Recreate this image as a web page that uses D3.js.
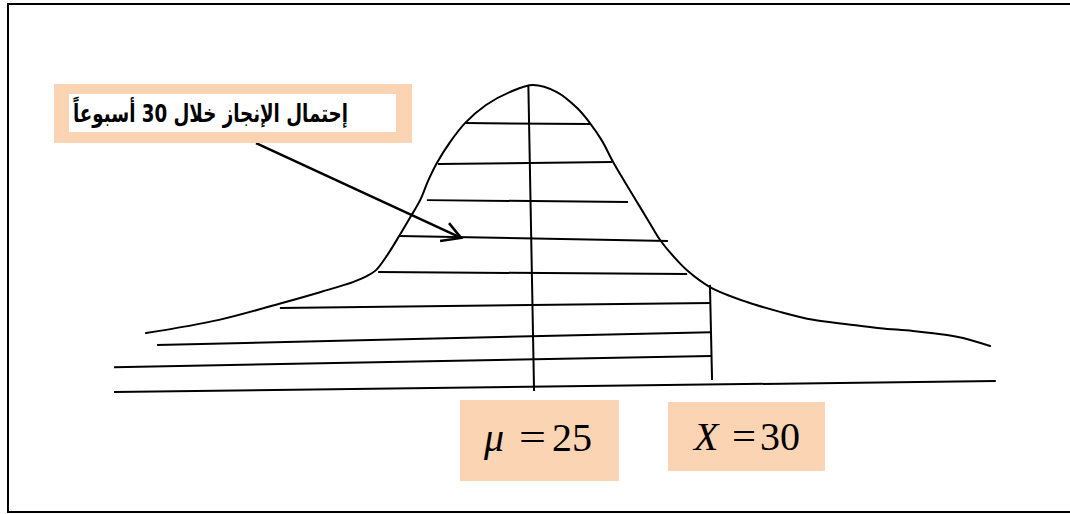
<!DOCTYPE html>
<html>
<head>
<meta charset="utf-8">
<script src="https://cdn.jsdelivr.net/npm/d3@7"></script>
<style>
  html, body { margin: 0; padding: 0; background: #fff; }
  svg { display: block; }
  .math { font-family: "Liberation Serif", "DejaVu Serif", serif; }
  .label { font-family: "DejaVu Sans", sans-serif; font-weight: bold; }
</style>
</head>
<body>
<svg id="chart" width="1070" height="514"></svg>
<script>
// curve of the sketch (x in weeks, y as % of peak height)
const curveX = [14.13, 16.18, 17.95, 19.04, 19.94, 20.34, 20.59, 20.93, 21.24, 21.54, 21.83, 22.05, 22.30, 22.67, 23.09, 23.68, 24.35, 25.00,
  25.67, 26.24, 26.60, 26.94, 27.25, 27.58, 27.92, 28.26, 28.57, 28.96, 29.35, 29.97, 31.01, 31.94, 32.87, 33.82, 34.75, 35.67, 36.63, 37.08, 37.84];
const curveY = [19.2, 23.5, 29.0, 32.6, 35.8, 37.8, 39.7, 45.0, 50.8, 56.7, 62.5, 68.7, 74.6, 81.4, 87.6, 93.5, 97.7, 100,
  97.7, 92.5, 87.6, 81.8, 74.9, 68.4, 61.9, 55.4, 49.5, 44.0, 39.4, 34.2, 29.3, 26.1, 23.5, 22.1, 20.8, 19.9, 18.6, 17.6, 15.0];

// hatch lines of the shaded area, last one is the base line
const hatchX1 = [23.09, 22.33, 22.02, 21.24, 20.65, 17.89, 14.44, 13.23, 13.23];
const hatchY1 = [87.6, 74.3, 62.5, 50.8, 39.1, 27.4, 15.3, 8.1, 0];
const hatchX2 = [26.60, 27.22, 27.67, 28.79, 29.33, 30.00, 30.00, 30.00, 38.00];
const hatchY2 = [87.3, 74.9, 61.9, 49.2, 38.4, 29.0, 19.5, 11.7, 3.6];

// vertical markers: mean and X
const markerNames = ["mu", "x"];
const markerX1 = [24.87, 29.97];
const markerY1 = [99.7, 34.9];
const markerX2 = [25.03, 30.03];
const markerY2 = [0.3, 3.9];

// arrow from the label into the area
const arrowX = [17.22, 22.98];
const arrowY = [81.1, 50.2];
const barbX = [22.64, 22.39];
const barbY = [55.0, 49.2];

const labelText = "إحتمال الإنجاز خلال 30 أسبوعاً";
const muValue = 25;
const xValue = 30;

const peach = "#fbd4b4";
const svg = d3.select("#chart");

const x = d3.scaleLinear().domain([25, 30]).range([533, 711]);
const y = d3.scaleLinear().domain([0, 100]).range([392, 85]);

// frame (open on the right)
svg.append("path")
  .attr("d", "M1072,4 H8 V512 H1072")
  .attr("fill", "none")
  .attr("stroke", "#000")
  .attr("stroke-width", 2);

// curve
const curve = curveX.map((v, i) => [v, curveY[i]]);
svg.append("path")
  .datum(curve)
  .attr("fill", "none")
  .attr("stroke", "#000")
  .attr("stroke-width", 2)
  .attr("stroke-linecap", "round")
  .attr("d", d3.line().x(d => x(d[0])).y(d => y(d[1])).curve(d3.curveCatmullRom.alpha(0.5)));

// hatching
const hatch = hatchX1.map((v, i) => ({x1: v, y1: hatchY1[i], x2: hatchX2[i], y2: hatchY2[i]}));
svg.selectAll(".hatch")
  .data(hatch)
  .enter().append("line")
  .attr("class", "hatch")
  .attr("x1", d => x(d.x1)).attr("y1", d => y(d.y1))
  .attr("x2", d => x(d.x2)).attr("y2", d => y(d.y2))
  .attr("stroke", "#000")
  .attr("stroke-width", 2);

// vertical markers
const markers = markerNames.map((n, i) => ({name: n, x1: markerX1[i], y1: markerY1[i], x2: markerX2[i], y2: markerY2[i]}));
svg.selectAll(".marker")
  .data(markers)
  .enter().append("line")
  .attr("class", "marker")
  .attr("x1", d => x(d.x1)).attr("y1", d => y(d.y1))
  .attr("x2", d => x(d.x2)).attr("y2", d => y(d.y2))
  .attr("stroke", "#000")
  .attr("stroke-width", 2);

// arrow
svg.append("line")
  .attr("x1", x(arrowX[0])).attr("y1", y(arrowY[0]))
  .attr("x2", x(arrowX[1])).attr("y2", y(arrowY[1]))
  .attr("stroke", "#000")
  .attr("stroke-width", 2.5);
svg.append("path")
  .attr("d", `M${x(barbX[0])},${y(barbY[0])} L${x(arrowX[1])},${y(arrowY[1])} L${x(barbX[1])},${y(barbY[1])}`)
  .attr("fill", "none")
  .attr("stroke", "#000")
  .attr("stroke-width", 2.5)
  .attr("stroke-linejoin", "miter");

// label box with arabic text
svg.append("rect")
  .attr("x", 54).attr("y", 84).attr("width", 358).attr("height", 59)
  .attr("fill", peach);
svg.append("rect")
  .attr("x", 69).attr("y", 94).attr("width", 327).attr("height", 38)
  .attr("fill", "#fff");
svg.append("text")
  .attr("class", "label")
  .attr("x", 73).attr("y", 122)
  .attr("font-size", 25)
  .attr("textLength", 275)
  .attr("lengthAdjust", "spacingAndGlyphs")
  .text(labelText);

// value boxes under the axis
function valueBox(bx, by, bw, bh, sym, val, xs, ty) {
  svg.append("rect")
    .attr("x", bx).attr("y", by).attr("width", bw).attr("height", bh)
    .attr("fill", peach);
  const t = svg.append("text")
    .attr("class", "math")
    .attr("y", ty)
    .attr("font-size", 40);
  t.append("tspan").attr("x", xs[0]).attr("font-style", "italic").text(sym);
  t.append("tspan").attr("x", xs[1]).attr("textLength", xs[2] - xs[1]).attr("lengthAdjust", "spacingAndGlyphs").text("=");
  t.append("tspan").attr("x", xs[3]).text(val);
}
valueBox(460, 400, 159, 81, "μ", muValue, [484, 519, 546, 552], 451);
valueBox(668, 402, 157, 69, "X", xValue, [694, 732, 756, 760], 450);
</script>
</body>
</html>
